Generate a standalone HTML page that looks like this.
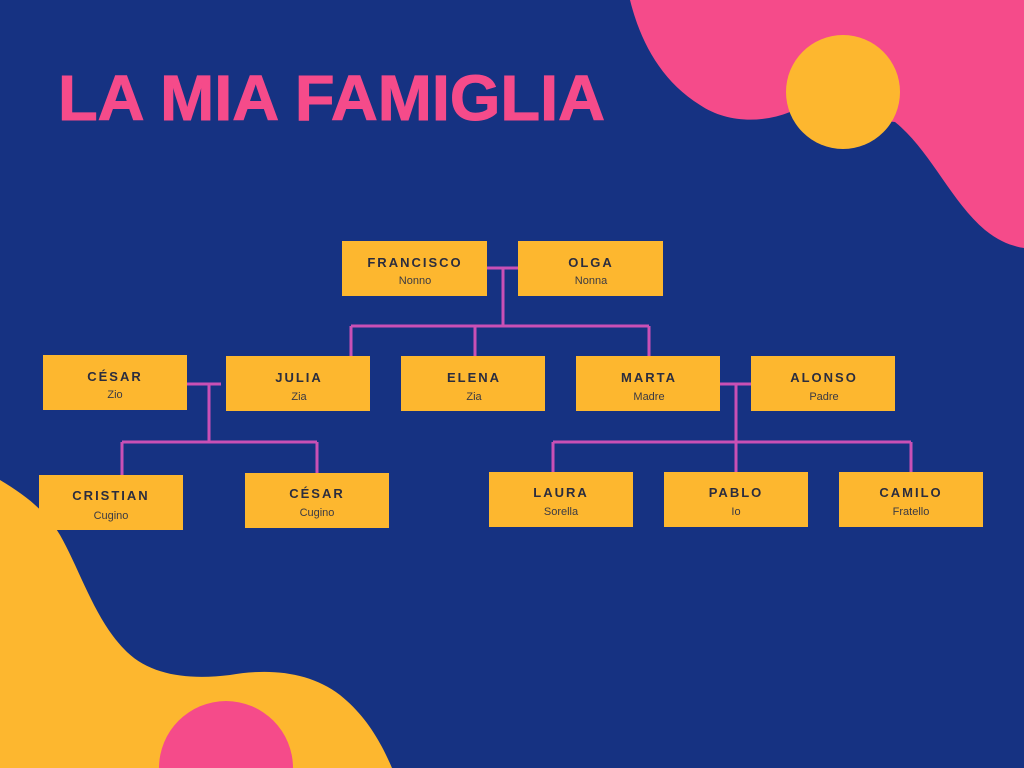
<!DOCTYPE html>
<html><head><meta charset="utf-8"><style>
html,body{margin:0;padding:0;width:1024px;height:768px;overflow:hidden;background:#163282;position:relative}
svg{display:block;position:absolute;left:0;top:0}
.n{font:bold 13px "Liberation Sans",sans-serif;fill:#2b2d3e;letter-spacing:2px;text-anchor:middle}
.s{font:11px "Liberation Sans",sans-serif;fill:#3a3a44;text-anchor:middle}
</style></head><body>
<svg width="1024" height="768" viewBox="0 0 1024 768">
<rect width="1024" height="768" fill="#163282"/>
<path d="M630 0 C640 40 660 80 700 105 C725 122 760 124 790 112 L895 122 C930 150 950 200 985 230 C1000 242 1012 246 1024 248 L1024 0 Z" fill="#f54b8a"/>
<circle cx="843" cy="92" r="57" fill="#fdb72f"/>
<path d="M0 480 C25 495 45 510 60 535 C80 570 95 620 125 650 C150 676 190 680 230 675 C270 668 310 672 340 695 C365 715 380 740 392 768 L0 768 Z" fill="#fdb72f"/>
<path d="M159 768 A67 67 0 0 1 293 768 Z" fill="#f54b8a"/>
<text x="58" y="120" font-family="Liberation Sans,sans-serif" font-weight="bold" font-size="64" fill="#f54b8a" stroke="#f54b8a" stroke-width="1" textLength="547" lengthAdjust="spacingAndGlyphs">LA MIA FAMIGLIA</text>
<g stroke="#c950b5" stroke-width="3" fill="none">
<path d="M487 268 H518 M503 268 V326 M351 326 H649 M351 326 V356 M475 326 V356 M649 326 V356"/>
<path d="M187 384 H221 M209 384 V442 M122 442 H317 M122 442 V475 M317 442 V473"/>
<path d="M720 384 H751 M736 384 V442 M553 442 H911 M553 442 V472 M736 442 V472 M911 442 V472"/>
</g>
<g fill="#fdb72f">
<rect x="342" y="241" width="145" height="55"/><rect x="518" y="241" width="145" height="55"/>
<rect x="43" y="355" width="144" height="55"/><rect x="226" y="356" width="144" height="55"/>
<rect x="401" y="356" width="144" height="55"/><rect x="576" y="356" width="144" height="55"/>
<rect x="751" y="356" width="144" height="55"/>
<rect x="39" y="475" width="144" height="55"/><rect x="245" y="473" width="144" height="55"/>
<rect x="489" y="472" width="144" height="55"/><rect x="664" y="472" width="144" height="55"/>
<rect x="839" y="472" width="144" height="55"/>
</g>
<text class="n" x="415" y="267">FRANCISCO</text><text class="s" x="415" y="284">Nonno</text>
<text class="n" x="591" y="267">OLGA</text><text class="s" x="591" y="284">Nonna</text>
<text class="n" x="115" y="381">CÉSAR</text><text class="s" x="115" y="398">Zio</text>
<text class="n" x="299" y="382">JULIA</text><text class="s" x="299" y="400">Zia</text>
<text class="n" x="474" y="382">ELENA</text><text class="s" x="474" y="400">Zia</text>
<text class="n" x="649" y="382">MARTA</text><text class="s" x="649" y="400">Madre</text>
<text class="n" x="824" y="382">ALONSO</text><text class="s" x="824" y="400">Padre</text>
<text class="n" x="111" y="500">CRISTIAN</text><text class="s" x="111" y="519">Cugino</text>
<text class="n" x="317" y="498">CÉSAR</text><text class="s" x="317" y="516">Cugino</text>
<text class="n" x="561" y="497">LAURA</text><text class="s" x="561" y="515">Sorella</text>
<text class="n" x="736" y="497">PABLO</text><text class="s" x="736" y="515">Io</text>
<text class="n" x="911" y="497">CAMILO</text><text class="s" x="911" y="515">Fratello</text>
</svg>
</body></html>
